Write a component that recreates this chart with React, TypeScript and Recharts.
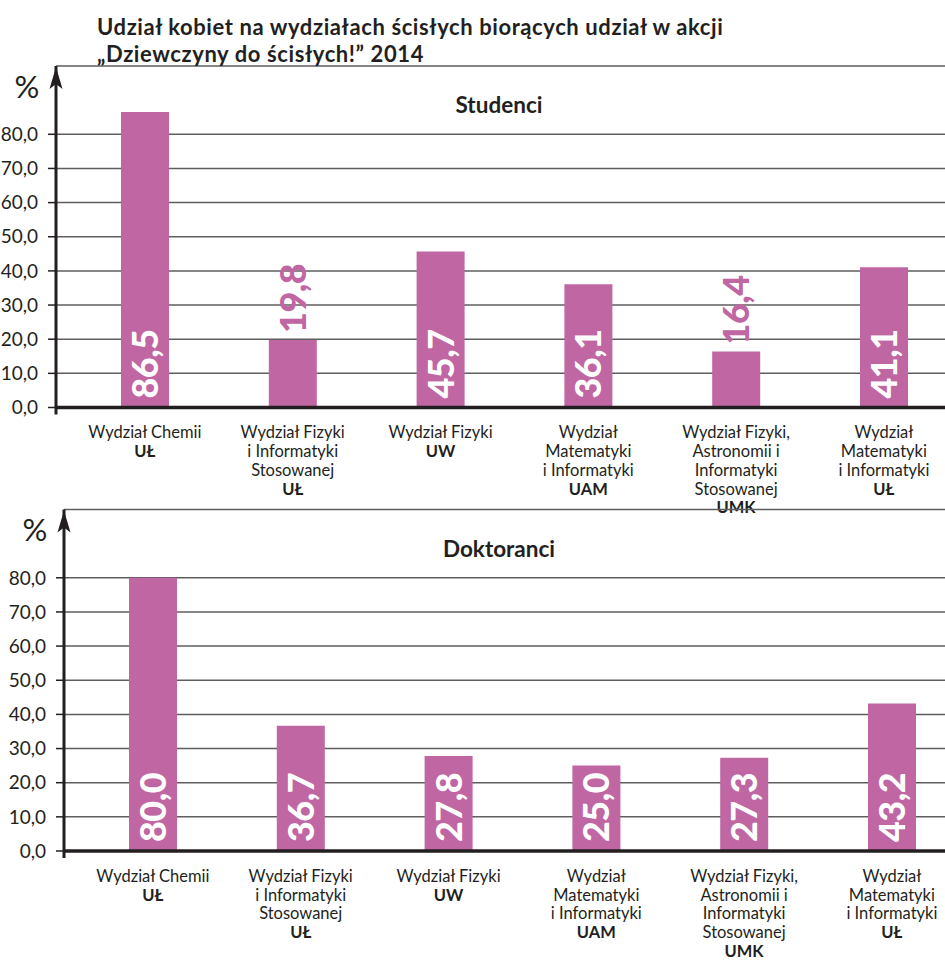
import { BarChart, Bar, XAxis, YAxis, CartesianGrid, LabelList } from "recharts";

const faculties = [
  ["Wydział Chemii"],
  ["Wydział Fizyki", "i Informatyki", "Stosowanej"],
  ["Wydział Fizyki"],
  ["Wydział", "Matematyki", "i Informatyki"],
  ["Wydział Fizyki,", "Astronomii i", "Informatyki", "Stosowanej"],
  ["Wydział", "Matematyki", "i Informatyki"],
];
const universities = ["UŁ", "UŁ", "UW", "UAM", "UMK", "UŁ"];

const students = [86.5, 19.8, 45.7, 36.1, 16.4, 41.1];
const doctoral = [80.0, 36.7, 27.8, 25.0, 27.3, 43.2];

const yTicks = [0, 10, 20, 30, 40, 50, 60, 70, 80];

const PINK = "#c066a3";
const INK = "#231f20";
const FONT = "Lato, 'Open Sans', sans-serif";

const fmt = (v: number) => v.toFixed(1).replace(".", ",");

function CategoryTick(props: any) {
  const { x, y, payload } = props;
  const i = payload.index;
  const lines = faculties[i];
  return (
    <g transform={`translate(${x},${y})`}>
      <text textAnchor="middle" fontFamily={FONT} fontSize={16.5} fill={INK}>
        {lines.map((l, k) => (
          <tspan key={k} x={0} dy={k === 0 ? 23 : 18.7}>
            {l}
          </tspan>
        ))}
        <tspan x={0} dy={18.7} fontWeight={700}>
          {universities[i]}
        </tspan>
      </text>
    </g>
  );
}

function ValueLabel(props: any) {
  const { x, y, width, height, value } = props;
  const cx = x + width / 2;
  const inside = height > 80;
  const by = inside ? y + height - 9 : y - 7;
  return (
    <g transform={`translate(${cx},${by}) rotate(-90)`}>
      <text
        x={0}
        y={0}
        dy="0.36em"
        textAnchor="start"
        fontFamily={FONT}
        fontWeight={900}
        fontSize={36}
        letterSpacing={-0.5}
        fill={inside ? "#ffffff" : PINK}
      >
        {fmt(value)}
      </text>
    </g>
  );
}

function AxisArrow(props: any) {
  const vb = props.viewBox || {};
  const ax = vb.x + vb.width;
  const top = vb.y + 1;
  const bottom = vb.y + vb.height;
  return (
    <g>
      <line x1={ax} x2={ax} y1={bottom} y2={bottom + 7} stroke={INK} strokeWidth={3} />
      <path
        d={`M${ax},${top} L${ax - 6.5},${top + 22} L${ax},${top + 17} L${ax + 6.5},${top + 22} Z`}
        fill={INK}
      />
      <text x={ax - 29} y={top + 31} textAnchor="middle" fontFamily={FONT} fontSize={31} fill={INK}>
        %
      </text>
    </g>
  );
}

function Panel({ values, top, axisLeft, marginTop }: { values: number[]; top: number; axisLeft: number; marginTop: number }) {
  const data = values.map((v, i) => ({ name: universities[i] + i, value: v }));
  return (
    <div style={{ position: "absolute", left: 0, top }}>
      <BarChart
        width={axisLeft + 15 + 6 * 147.8}
        height={520}
        data={data}
        margin={{ top: marginTop, right: 0, bottom: 0, left: 0 }}
      >
        <CartesianGrid vertical={false} stroke="#5e5e5e" strokeWidth={1.5} />
        <XAxis
          dataKey="name"
          height={520 - marginTop - 341.5}
          padding={{ left: 15, right: 0 }}
          axisLine={{ stroke: INK, strokeWidth: 3.5 }}
          tickLine={false}
          tick={<CategoryTick />}
          interval={0}
        />
        <YAxis
          width={axisLeft}
          domain={[0, 100]}
          ticks={yTicks}
          tickFormatter={fmt}
          axisLine={{ stroke: INK, strokeWidth: 3 }}
          tickLine={{ stroke: INK, strokeWidth: 1.5 }}
          tickSize={8}
          tickMargin={10}
          tick={{ fontFamily: FONT, fontSize: 19, fill: INK }}
          label={{ content: AxisArrow }}
        />
        <Bar dataKey="value" fill={PINK} barSize={48} isAnimationActive={false}>
          <LabelList dataKey="value" content={ValueLabel} />
        </Bar>
      </BarChart>
    </div>
  );
}

export default function App() {
  return (
    <div
      style={{
        position: "absolute",
        left: 0,
        top: 0,
        width: 945,
        height: 960,
        overflow: "hidden",
        background: "#fff",
        fontFamily: FONT,
        color: INK,
      }}
    >
      <Panel values={students} top={0} axisLeft={56} marginTop={66} />
      <Panel values={doctoral} top={440} axisLeft={64} marginTop={69.5} />
      <div
        style={{
          position: "absolute",
          left: 97,
          top: 13,
          fontSize: 22,
          fontWeight: 700,
          letterSpacing: 0.6,
          lineHeight: "27px",
        }}
      >
        Udział kobiet na wydziałach ścisłych biorących udział w akcji
        <br />„Dziewczyny do ścisłych!” 2014
      </div>
      <div style={{ position: "absolute", left: 0, width: 998, top: 91, textAlign: "center", fontSize: 22.5, fontWeight: 700 }}>
        Studenci
      </div>
      <div style={{ position: "absolute", left: 0, width: 998, top: 535, textAlign: "center", fontSize: 22.5, fontWeight: 700 }}>
        Doktoranci
      </div>
    </div>
  );
}
